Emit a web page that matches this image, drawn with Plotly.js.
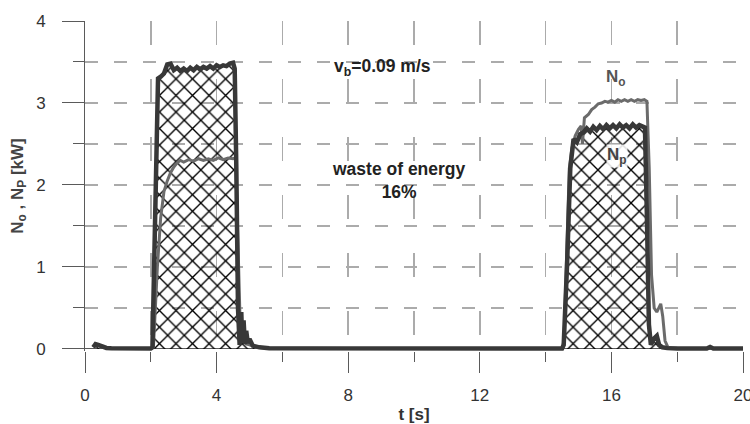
<!DOCTYPE html>
<html>
<head>
<meta charset="utf-8">
<script src="https://cdn.plot.ly/plotly-3.0.1.min.js"></script>
<style>html,body{margin:0;padding:0;background:#fff;}#chart{width:750px;height:424px;}</style>
</head>
<body>
<div id="chart"></div>
<script>
// ---- data ----
const tP = [0.25,0.32,0.4,0.5,0.65,0.8,1.2,1.6,2.0,2.05,2.1,2.16,2.22,2.3,2.4,2.5,2.6,2.7,2.8,2.9,
            3.0,3.1,3.2,3.3,3.4,3.5,3.6,3.7,3.8,3.9,4.0,4.1,4.2,4.3,4.4,4.5,4.55,4.6,4.65,4.7,
            4.75,4.78,4.82,4.86,4.9,4.95,5.0,5.1,5.3,5.6,6.5,8,9.5,11,12.5,14,14.5,14.55,14.65,14.75,
            14.85,14.95,15.05,15.15,15.25,15.35,15.45,15.55,15.65,15.75,15.85,15.95,16.05,16.15,16.25,16.35,16.45,16.55,16.65,16.75,
            16.85,16.95,17.02,17.08,17.14,17.2,17.3,17.38,17.45,17.55,17.7,18,18.9,19.0,19.1,19.5,20];
const nP = [0.02,0.06,0.05,0.03,0.012,0.01,0.008,0.006,0.006,0.02,1.0,2.6,3.3,3.32,3.36,3.47,3.48,3.40,3.43,3.39,
            3.42,3.39,3.43,3.40,3.44,3.41,3.44,3.42,3.45,3.42,3.46,3.44,3.46,3.45,3.48,3.49,3.42,2.2,0.5,0.05,
            0.45,0.08,0.35,0.06,0.22,0.07,0.12,0.04,0.02,0.01,0.008,0.006,0.007,0.005,0.006,0.005,0.005,0.05,1.0,2.2,
            2.56,2.52,2.62,2.64,2.69,2.65,2.71,2.67,2.72,2.68,2.73,2.69,2.73,2.69,2.74,2.70,2.73,2.69,2.74,2.70,
            2.73,2.71,2.70,1.6,0.3,0.05,0.13,0.16,0.05,0.02,0.01,0.006,0.006,0.025,0.006,0.005,0.005];

const tO = [0.25,0.32,0.4,0.5,0.65,0.8,1.2,1.6,2.0,2.08,2.14,2.2,2.3,2.4,2.5,2.6,2.7,2.8,2.9,3.0,
            3.15,3.3,3.45,3.6,3.75,3.9,4.05,4.2,4.35,4.5,4.58,4.63,4.68,4.72,4.76,4.8,4.85,4.9,5.0,5.2,
            5.5,6.5,8,10,12,14,14.5,14.56,14.65,14.72,14.8,14.9,15.0,15.08,15.12,15.18,15.3,15.4,15.5,15.6,
            15.7,15.8,15.9,16.0,16.1,16.2,16.3,16.4,16.5,16.6,16.7,16.8,16.9,17.0,17.08,17.15,17.22,17.3,17.38,17.45,
            17.5,17.56,17.63,17.72,18,19,20];
const nO = [0.02,0.05,0.045,0.03,0.012,0.01,0.008,0.006,0.006,0.02,0.5,1.0,1.6,1.92,2.05,2.15,2.22,2.27,2.30,2.28,
            2.31,2.29,2.32,2.30,2.32,2.30,2.33,2.31,2.33,2.32,2.33,1.6,0.6,0.25,0.3,0.12,0.15,0.06,0.05,0.02,
            0.012,0.008,0.006,0.006,0.005,0.005,0.005,0.1,1.3,2.2,2.45,2.6,2.68,2.72,2.5,2.82,2.86,2.92,2.95,2.99,
            3.0,3.02,3.01,3.03,3.01,3.04,3.02,3.04,3.02,3.04,3.02,3.04,3.03,3.04,3.02,2.2,0.9,0.5,0.45,0.52,
            0.55,0.4,0.1,0.02,0.008,0.006,0.005];

const xTickVals = [0,4,8,12,16,20];
const xTickText = ['0','4','8','12','16','20'];
const xMinorVals = [2,6,10,14,18];
const yTickVals = [0,1,2,3,4];
const yTickText = ['0','1','2','3','4'];
const yMinorVals = [0.5,1.5,2.5,3.5];

const gridCol = '#ababab', axisCol = '#5a5a5a';
const vDash = '24px, 34px';
const hDash = '13px,16px';

const traces = [
  {x:tP, y:nP, type:'scatter', mode:'none', fill:'tozeroy', fillcolor:'rgba(255,255,255,0)',
   fillpattern:{shape:'x', size:11.7, solidity:0.22, fgcolor:'#000000', bgcolor:'rgba(255,255,255,0)'},
   hoverinfo:'skip', showlegend:false},
  {x:tO, y:nO, type:'scatter', mode:'lines', line:{color:'#6b6b6b', width:3}, showlegend:false},
  {x:tP, y:nP, type:'scatter', mode:'lines', line:{color:'#383838', width:4.5}, showlegend:false}
];

const fontFam = '"Liberation Sans", Arial, sans-serif';
const layout = {
  width:750, height:424,
  margin:{l:85, r:7, t:21, b:73},
  paper_bgcolor:'#ffffff', plot_bgcolor:'#ffffff',
  showlegend:false,
  font:{family:fontFam, color:'#333333'},
  xaxis:{range:[0, 20], tickvals:xTickVals, ticktext:xTickText,
         showgrid:true, gridcolor:gridCol, gridwidth:1.5, griddash:vDash,
         zeroline:false, showline:false,
         ticks:'outside', ticklen:21, tickwidth:1, tickcolor:axisCol,
         minor:{tickvals:xMinorVals, ticks:'outside', ticklen:10, tickwidth:1, tickcolor:axisCol,
                showgrid:true, gridcolor:gridCol, gridwidth:1.5, griddash:vDash},
         ticklabelstandoff:8, ticklabeloverflow:'allow', tickfont:{size:17, color:'#333'},
         title:{text:'<b>t [s]</b>', font:{size:17, color:'#333'}, standoff:4}},
  yaxis:{range:[-0.025, 4], tickvals:yTickVals, ticktext:yTickText,
         showgrid:true, gridcolor:gridCol, gridwidth:1.5, griddash:hDash,
         zeroline:true, zerolinecolor:axisCol, zerolinewidth:1,
         showline:true, linecolor:axisCol, linewidth:1,
         ticks:'outside', ticklen:22, tickwidth:1, tickcolor:axisCol,
         minor:{tickvals:yMinorVals, ticks:'outside', ticklen:11, tickwidth:1, tickcolor:axisCol,
                showgrid:true, gridcolor:gridCol, gridwidth:1.5, griddash:hDash},
         ticklabelstandoff:13, tickfont:{size:17, color:'#333'},
         title:{text:'<b>N<sub>o</sub> , N<sub>P</sub> [kW]</b>', font:{size:17, color:'#444'}, standoff:8}},
  annotations:[
    {x:9.03, y:3.43, xref:'x', yref:'y', text:'<b>v<sub>b</sub>=0.09 m/s</b>', showarrow:false,
     font:{size:17.5, color:'#222'}},
    {x:9.54, y:2.06, xref:'x', yref:'y', text:'<b>waste of energy<br>16%</b>', showarrow:false,
     font:{size:17.5, color:'#222'}},
    {x:16.14, y:3.30, xref:'x', yref:'y', text:'<b>N<sub>o</sub></b>', showarrow:false,
     font:{size:17, color:'#555'}},
    {x:16.17, y:2.35, xref:'x', yref:'y', text:'<b>N<sub>p</sub></b>', showarrow:false,
     bgcolor:'rgba(255,255,255,0.85)', borderpad:0,
     font:{size:17, color:'#444'}}
  ]
};

Plotly.newPlot('chart', traces, layout, {staticPlot:true, displayModeBar:false});
</script>
</body>
</html>
